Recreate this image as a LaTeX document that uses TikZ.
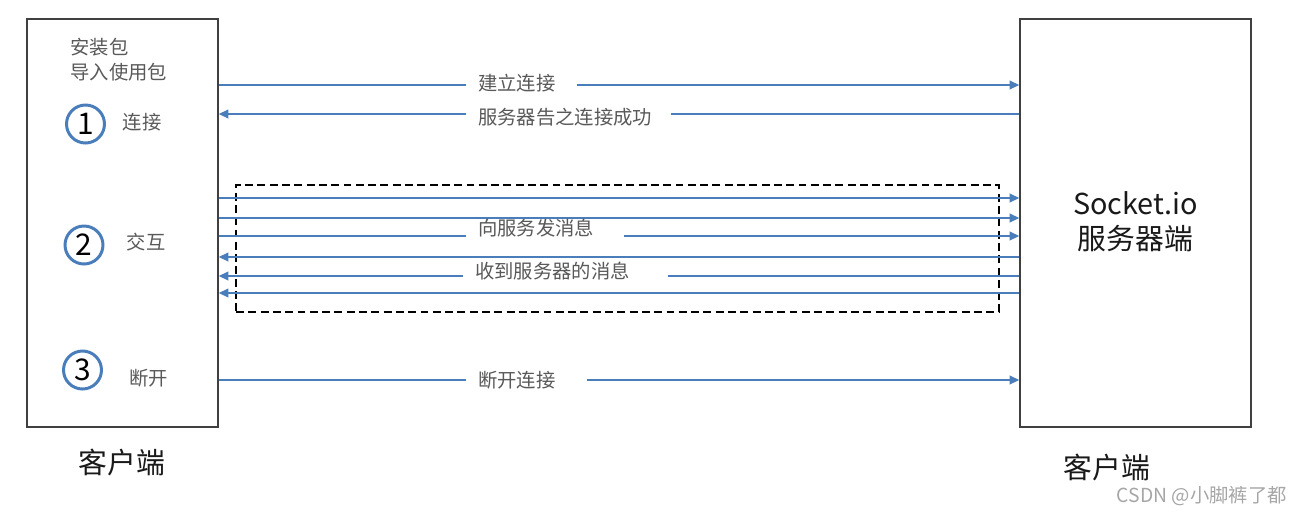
\documentclass[tikz,border=0pt]{standalone}
\usepackage{fontspec}
\setmainfont{Noto Sans CJK SC}
\usetikzlibrary{arrows.meta,positioning}
\definecolor{Wire}{HTML}{4A7EBB}
\definecolor{Ink}{HTML}{595959}
\definecolor{Frame}{HTML}{404040}
\definecolor{Faint}{HTML}{A6A6A6}
\tikzset{
  endbox/.style={draw=Frame,line width=0.85pt,inner sep=0pt,minimum height=8.16cm},
  msg/.style={Wire,line width=0.75pt,-{Triangle[length=5.5pt,width=5pt]}},
  msglbl/.style={fill=white,text=Ink,anchor=west,inner xsep=6.8pt,inner ysep=0pt,
    text width=#1,align=left,font=\fontsize{11}{13}\selectfont},
  stepnum/.style={circle,draw=Wire,line width=1.7pt,minimum size=0.76cm,inner sep=0pt,
    font=\fontsize{17}{17}\selectfont},
  steplbl/.style={text=Ink,font=\fontsize{11}{13}\selectfont},
  sidelbl/.style={text=black!90,font=\fontsize{16.4}{20}\selectfont}
}
\begin{document}
\begin{tikzpicture}[x=0.02cm,y=-0.02cm]
        \useasboundingbox (0,0) rectangle (1302,515);

        % the two ends
        \node[endbox,minimum width=3.82cm] (client) at (122.5,223) {};
        \node[endbox,minimum width=4.62cm,align=center,sidelbl] (server) at (1135.5,223) {};
        \node[sidelbl,align=center] (srvname) at (1135.5,222) {Socket.io\\服务器端};

        % interaction frame
        \node[draw,dashed,line width=0.7pt,dash pattern=on 4.5pt off 2.5pt,
              minimum width=15.26cm,minimum height=2.54cm,inner sep=0pt] (frame) at (617.5,248.5) {};

        % client side notes
        \node[steplbl,anchor=west,align=left,inner sep=0pt,font=\fontsize{11}{14.2}\selectfont] (setup) at (70,60) {安装包\\导入使用包};
        \node[stepnum] (s1) at (85.5,124) {1};
        \node[stepnum] (s2) at (84,245) {2};
        \node[stepnum] (s3) at (82.5,370) {3};
        \node[steplbl] (t1) at (142,122) {连接};
        \node[steplbl] (t2) at (146,242) {交互};
        \node[steplbl] (t3) at (148.5,378) {断开};

        % messages
        \foreach \y in {85,198,218,236,380} {
          \coordinate (r\y) at (0,\y);
          \draw[msg] (client.east |- r\y) -- (server.west |- r\y);
        }
        \foreach \y in {114,257,276,293} {
          \coordinate (l\y) at (0,\y);
          \draw[msg] (server.west |- l\y) -- (client.east |- l\y);
        }
        \node[msglbl=1.74cm] (m1) at (466,83) {建立连接};
        \node[msglbl=3.62cm] (m2) at (466,117.5) {服务器告之连接成功};
        \node[msglbl=2.68cm] (m3) at (466,228.5) {向服务发消息};
        \node[msglbl=3.62cm] (m4) at (463,271.5) {收到服务器的消息};
        \node[msglbl=1.94cm] (m5) at (466,380) {断开连接};

        % captions
        \node[sidelbl] (cname) at (122,462) {客户端};
        \node[sidelbl] (cname2) at (1107,467) {客户端};
        \node[text=Faint,anchor=east,inner sep=0pt,font=\fontsize{11}{13}\selectfont] (mark) at (1287,496) {CSDN @小脚裤了都};
      \end{tikzpicture}
\end{document}
